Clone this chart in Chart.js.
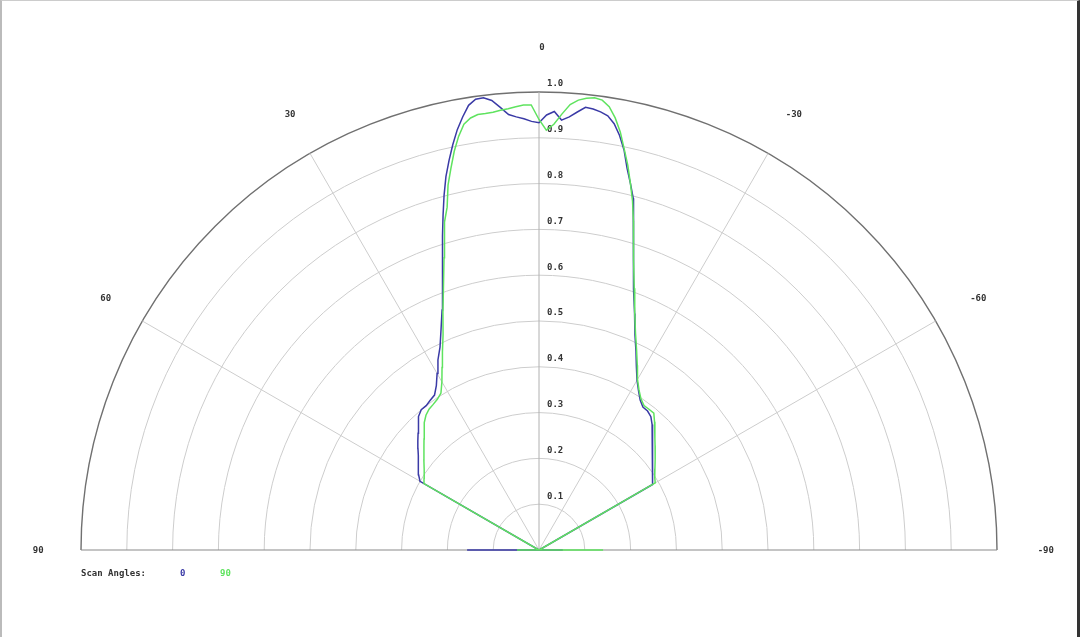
<!DOCTYPE html>
<html>
<head>
<meta charset="utf-8">
<script src="https://cdn.jsdelivr.net/npm/chart.js@4/dist/chart.umd.min.js"></script>
<style>
  html, body { margin: 0; padding: 0; background: #fff; }
  #wrap { position: relative; width: 1080px; height: 637px; overflow: hidden; }
  #frame { position: absolute; left: 0; top: 0; width: 1080px; height: 637px; box-sizing: border-box;
           border-left: 2px solid #bbb; border-top: 1px solid #ccc; border-right: 3px solid #333; pointer-events: none; }
  canvas { display: block; }
</style>
</head>
<body>
<div id="wrap">
<canvas id="c" width="1080" height="637"></canvas>
<div id="frame"></div>
</div>
<script>
// Angles in degrees (positive = left of vertical), common to both series
const angles = [90, 89, 61, 60, 58, 55, 52, 50, 48, 46, 44, 42, 40, 38, 36, 34, 32, 30, 28, 26, 24, 22, 20, 18, 17, 16, 15, 14, 13, 12, 11, 10, 9, 8, 7, 6, 5, 4, 3, 2, 1, 0,
  -1, -2, -3, -4, -5, -6, -7, -8, -9, -10, -11, -12, -13, -14, -15, -16, -17, -18, -20, -22, -24, -26, -28, -30, -32, -34, -36, -38, -40, -42, -44, -46, -48, -50, -52, -55, -58, -60, -61, -89, -90];

// Scan angle 0 (blue)
const scan0 = [0.157, 0, 0, 0.300, 0.310, 0.321, 0.335, 0.345, 0.356, 0.367, 0.380, 0.392, 0.400, 0.400, 0.404, 0.408, 0.423, 0.445, 0.470, 0.493, 0.526, 0.565, 0.619, 0.682, 0.717, 0.760, 0.801, 0.840, 0.873, 0.905, 0.935, 0.960, 0.983, 0.994, 0.995, 0.987, 0.970, 0.953, 0.947, 0.942, 0.936, 0.933,
  0.950, 0.958, 0.940, 0.948, 0.960, 0.972, 0.970, 0.966, 0.960, 0.945, 0.922, 0.893, 0.855, 0.825, 0.795, 0.750, 0.705, 0.665, 0.606, 0.557, 0.515, 0.483, 0.453, 0.428, 0.410, 0.395, 0.386, 0.385, 0.380, 0.369, 0.357, 0.345, 0.334, 0.324, 0.314, 0.303, 0.292, 0.286, 0, 0, 0.052];

// Scan angle 90 (green)
const scan90 = [0.048, 0, 0, 0.290, 0.296, 0.306, 0.319, 0.328, 0.338, 0.349, 0.361, 0.374, 0.384, 0.390, 0.393, 0.397, 0.404, 0.424, 0.451, 0.481, 0.515, 0.560, 0.610, 0.671, 0.709, 0.745, 0.775, 0.821, 0.855, 0.890, 0.920, 0.944, 0.955, 0.960, 0.960, 0.961, 0.964, 0.966, 0.969, 0.972, 0.972, 0.940,
  0.917, 0.930, 0.953, 0.975, 0.986, 0.992, 0.995, 0.992, 0.980, 0.958, 0.930, 0.895, 0.862, 0.825, 0.789, 0.748, 0.706, 0.668, 0.608, 0.558, 0.518, 0.486, 0.457, 0.430, 0.412, 0.398, 0.390, 0.390, 0.390, 0.377, 0.364, 0.352, 0.341, 0.331, 0.322, 0.309, 0.298, 0.293, 0, 0, 0.140];

const seriesLabels = ['0', '90'];
const seriesColors = ['#3a3aa6', '#5fe35f'];
const ringValues = [0.1, 0.2, 0.3, 0.4, 0.5, 0.6, 0.7, 0.8, 0.9, 1.0];
const ringLabels = ['0.1', '0.2', '0.3', '0.4', '0.5', '0.6', '0.7', '0.8', '0.9', '1.0'];
const spokeAngles = [90, 60, 30, 0, -30, -60, -90];
const spokeLabels = ['90', '60', '30', '0', '-30', '-60', '-90'];
const legendTitle = 'Scan Angles:';

function toXY(deg, r) {
  const a = deg * Math.PI / 180;
  return { x: -r * Math.sin(a), y: r * Math.cos(a) };
}
function buildPoints(values) {
  return angles.map((a, i) => toXY(a, values[i]));
}

const FONT = 'bold 9px "DejaVu Sans Mono", "Liberation Mono", monospace';

const polarGrid = {
  id: 'polarGrid',
  beforeDatasetsDraw(chart) {
    const ctx = chart.ctx;
    const xs = chart.scales.x, ys = chart.scales.y;
    const cx = xs.getPixelForValue(0), cy = ys.getPixelForValue(0);
    const unit = xs.getPixelForValue(1) - cx;
    ctx.save();
    ringValues.forEach((v, i) => {
      ctx.beginPath();
      ctx.arc(cx, cy, v * unit, Math.PI, 2 * Math.PI);
      const outer = i === ringValues.length - 1;
      ctx.strokeStyle = outer ? '#707070' : '#cdcdcd';
      ctx.lineWidth = outer ? 1.4 : 1;
      ctx.stroke();
    });
    spokeAngles.forEach(a => {
      if (Math.abs(a) === 90) return;
      const p = toXY(a, 1);
      ctx.beginPath();
      ctx.moveTo(cx, cy);
      ctx.lineTo(xs.getPixelForValue(p.x), ys.getPixelForValue(p.y));
      ctx.strokeStyle = a === 0 ? '#b0b0b0' : '#cdcdcd';
      ctx.lineWidth = 1;
      ctx.stroke();
    });
    ctx.beginPath();
    ctx.moveTo(xs.getPixelForValue(-1), cy);
    ctx.lineTo(xs.getPixelForValue(1), cy);
    ctx.strokeStyle = '#8a8a8a';
    ctx.lineWidth = 1.2;
    ctx.stroke();
    ctx.font = FONT;
    ctx.fillStyle = '#333';
    ctx.textAlign = 'left';
    ctx.textBaseline = 'middle';
    ringValues.forEach((v, i) => {
      ctx.fillText(ringLabels[i], cx + 8, ys.getPixelForValue(v) - 8);
    });
    ctx.textAlign = 'center';
    spokeAngles.forEach((a, i) => {
      const p = toXY(a, 1.1);
      ctx.fillText(spokeLabels[i], xs.getPixelForValue(p.x) + 3, ys.getPixelForValue(p.y) + 1);
    });
    ctx.restore();
  },
  afterDraw(chart) {
    const ctx = chart.ctx;
    ctx.save();
    ctx.font = FONT;
    ctx.textAlign = 'left';
    ctx.textBaseline = 'middle';
    ctx.fillStyle = '#333';
    ctx.fillText(legendTitle, 81, 574);
    const xpos = [180, 220];
    chart.data.datasets.forEach((ds, i) => {
      ctx.fillStyle = ds.borderColor;
      ctx.fillText(ds.label, xpos[i], 574);
    });
    ctx.restore();
  }
};

new Chart(document.getElementById('c'), {
  type: 'scatter',
  data: {
    datasets: [
      { label: seriesLabels[0], data: buildPoints(scan0), borderColor: seriesColors[0], backgroundColor: seriesColors[0],
        showLine: true, pointRadius: 0, borderWidth: 1.5, tension: 0, order: 1 },
      { label: seriesLabels[1], data: buildPoints(scan90), borderColor: seriesColors[1], backgroundColor: seriesColors[1],
        showLine: true, pointRadius: 0, borderWidth: 1.5, tension: 0, order: 0 }
    ]
  },
  options: {
    responsive: false,
    animation: false,
    devicePixelRatio: 1,
    layout: { padding: { left: 81, right: 83, top: 92, bottom: 87 } },
    scales: {
      x: { type: 'linear', min: -1, max: 1, display: false },
      y: { type: 'linear', min: 0, max: 1, display: false }
    },
    plugins: { legend: { display: false }, tooltip: { enabled: false } },
    clip: false
  },
  plugins: [polarGrid]
});
</script>
</body>
</html>
